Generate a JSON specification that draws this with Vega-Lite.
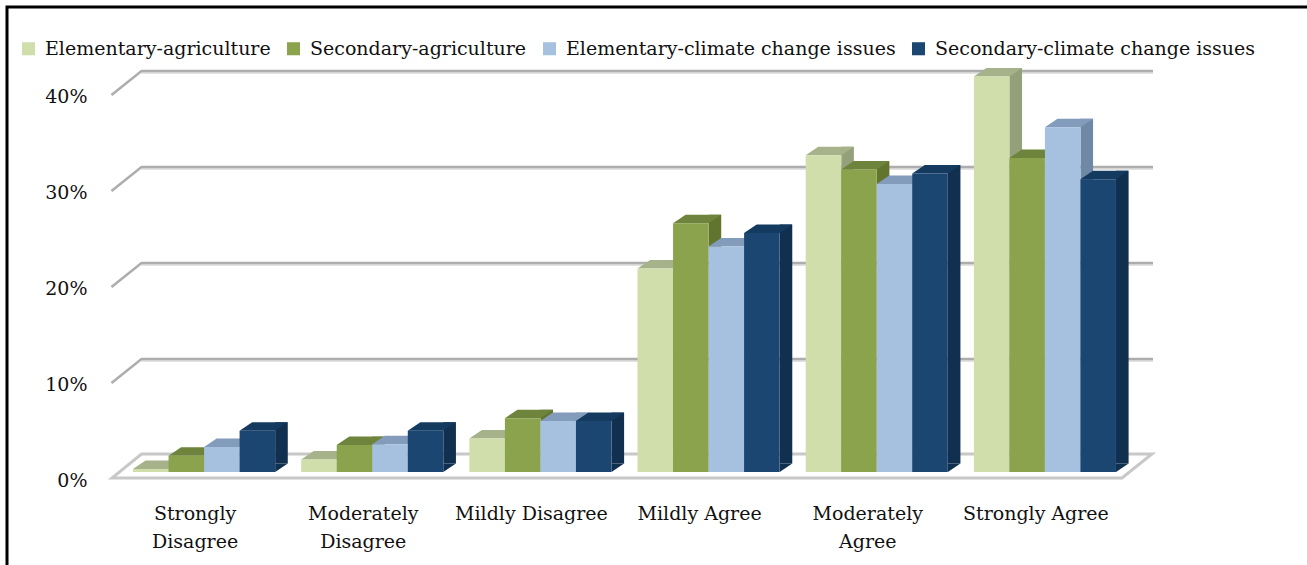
{
"$schema":"https://vega.github.io/schema/vega-lite/v6.json",
"autosize":{"type":"none"},
"width":1009,"height":408,
"padding":{"left":120,"top":64,"right":178,"bottom":93},
"background":"white",
"config":{"view":{"stroke":null},"font":"DejaVu Serif"},
"datasets":{
"bars":[
{"c":"Strongly Disagree","s":"Elementary-agriculture","v":0.3},
{"c":"Strongly Disagree","s":"Secondary-agriculture","v":1.7},
{"c":"Strongly Disagree","s":"Elementary-climate change issues","v":2.6},
{"c":"Strongly Disagree","s":"Secondary-climate change issues","v":4.3},
{"c":"Moderately Disagree","s":"Elementary-agriculture","v":1.3},
{"c":"Moderately Disagree","s":"Secondary-agriculture","v":2.8},
{"c":"Moderately Disagree","s":"Elementary-climate change issues","v":2.9},
{"c":"Moderately Disagree","s":"Secondary-climate change issues","v":4.3},
{"c":"Mildly Disagree","s":"Elementary-agriculture","v":3.5},
{"c":"Mildly Disagree","s":"Secondary-agriculture","v":5.6},
{"c":"Mildly Disagree","s":"Elementary-climate change issues","v":5.3},
{"c":"Mildly Disagree","s":"Secondary-climate change issues","v":5.3},
{"c":"Mildly Agree","s":"Elementary-agriculture","v":21.2},
{"c":"Mildly Agree","s":"Secondary-agriculture","v":25.9},
{"c":"Mildly Agree","s":"Elementary-climate change issues","v":23.5},
{"c":"Mildly Agree","s":"Secondary-climate change issues","v":24.9},
{"c":"Moderately Agree","s":"Elementary-agriculture","v":33},
{"c":"Moderately Agree","s":"Secondary-agriculture","v":31.5},
{"c":"Moderately Agree","s":"Elementary-climate change issues","v":30},
{"c":"Moderately Agree","s":"Secondary-climate change issues","v":31.1},
{"c":"Strongly Agree","s":"Elementary-agriculture","v":41.2},
{"c":"Strongly Agree","s":"Secondary-agriculture","v":32.7},
{"c":"Strongly Agree","s":"Elementary-climate change issues","v":35.9},
{"c":"Strongly Agree","s":"Secondary-climate change issues","v":30.5}
],
"grid":[{"g":10},{"g":20},{"g":30},{"g":40}],
"floor":[{"g":0}],
"frame":[{"f":1}]
},
"data":{"name":"bars"},
"resolve":{"scale":{"color":"independent","xOffset":"independent"}},
"layer":[
{"data":{"name":"frame"},
 "mark":{"type":"point","shape":"M-617.5,310 L-617.5,-261 L690,-261","size":4,"filled":false,"fill":"transparent","stroke":"#000","strokeWidth":3,"opacity":1},
 "encoding":{}},
{"data":{"name":"floor"},
 "mark":{"type":"point","shape":"M-512.5,6 L497.5,6 L527.5,-18 L-483,-18 Z","size":4,"filled":false,"fill":"white","stroke":"#c8c8c8","strokeWidth":3,"opacity":1},
 "encoding":{"y":{"field":"g","type":"quantitative","scale":{"domain":[0,42.5],"nice":false},"axis":{"values":[0,10,20,30,40],"title":null,"domain":false,"ticks":false,"grid":false,"labelPadding":33,"labelOffset":8,"labelExpr":"datum.value + '%'","labelFont":"DejaVu Serif","labelFontSize":19,"labelColor":"#111"}}}},
{"data":{"name":"grid"},
 "mark":{"type":"point","shape":"M-483,-15 L528.5,-15","size":4,"filled":false,"fill":"transparent","stroke":"#e2e2e2","strokeWidth":2,"opacity":1},
 "encoding":{"y":{"field":"g","type":"quantitative"}}},
{"data":{"name":"grid"},
 "mark":{"type":"point","shape":"M-513,7 L-483,-17 L528.5,-17","size":4,"filled":false,"fill":"transparent","stroke":"#adadad","strokeWidth":2.5,"opacity":1},
 "encoding":{"y":{"field":"g","type":"quantitative"}}},
{"mark":{"type":"bar","width":12.6,"yOffset":-8.5,"y2Offset":-8.5},
 "encoding":{
  "x":{"field":"c","type":"nominal","sort":null,"scale":{"paddingInner":0.155,"paddingOuter":0.0775},"axis":{"title":null,"domain":false,"ticks":false,"labelAngle":0,"labelPadding":32,"labelOffset":-9,"labelBaseline":"top","labelLineHeight":28,"labelLimit":300,"labelExpr":"length(datum.label) > 15 ? split(datum.label, ' ') : datum.label","labelFont":"DejaVu Serif","labelFontSize":19,"labelColor":"#111"}},
  "xOffset":{"field":"s","sort":null,"scale":{"range":[24.1,166.2]}},
  "y":{"field":"v","type":"quantitative"},
  "color":{"field":"s","sort":null,"legend":null,"scale":{"domain":["Elementary-agriculture","Secondary-agriculture","Elementary-climate change issues","Secondary-climate change issues"],"range":["#93A07A","#62752F","#6F88A5","#112F4E"]}}
 }},
{"mark":{"type":"point","shape":"M17.8,0 L17.8,-8.5 L30.4,-8.5 Z","size":4,"filled":true,"opacity":1},
 "encoding":{
  "x":{"field":"c","type":"nominal","sort":null},
  "xOffset":{"field":"s","sort":null},
  "y":{"datum":0,"type":"quantitative"},
  "color":{"field":"s","sort":null,"legend":null,"scale":{"domain":["Elementary-agriculture","Secondary-agriculture","Elementary-climate change issues","Secondary-climate change issues"],"range":["#93A07A","#62752F","#6F88A5","#112F4E"]}}
 }},
{"mark":{"type":"point","shape":"M-17.8,0 L17.8,0 L30.4,-8.5 L-5.2,-8.5 Z","size":4,"filled":true,"opacity":1},
 "encoding":{
  "x":{"field":"c","type":"nominal","sort":null},
  "xOffset":{"field":"s","sort":null},
  "y":{"field":"v","type":"quantitative"},
  "color":{"field":"s","sort":null,"legend":null,"scale":{"domain":["Elementary-agriculture","Secondary-agriculture","Elementary-climate change issues","Secondary-climate change issues"],"range":["#A6B28A","#6E833C","#839CBB","#153A60"]}}
 }},
{"mark":{"type":"bar"},
 "encoding":{
  "x":{"field":"c","type":"nominal","sort":null},
  "xOffset":{"field":"s","sort":null},
  "y":{"field":"v","type":"quantitative"},
  "color":{"field":"s","sort":null,"scale":{"domain":["Elementary-agriculture","Secondary-agriculture","Elementary-climate change issues","Secondary-climate change issues"],"range":["#CFDEAB","#8AA34C","#A6C1E0","#1B4672"]},
  "legend":{"title":null,"orient":"none","legendX":-101,"legendY":-25,"direction":"horizontal","columns":4,"columnPadding":13,"padding":0,"symbolType":"square","symbolSize":170,"symbolStrokeWidth":0,"labelOffset":7,"labelLimit":500,"labelFont":"DejaVu Serif","labelFontSize":19,"labelColor":"#111"}}
 }}
]
}
